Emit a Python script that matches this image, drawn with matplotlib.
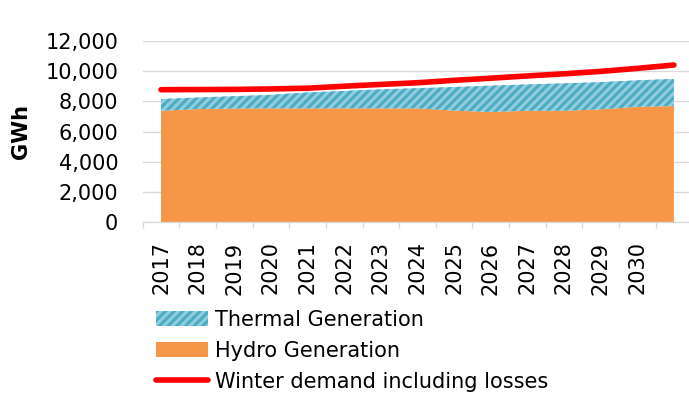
import matplotlib
matplotlib.use("Agg")
import matplotlib.pyplot as plt
import numpy as np

# ---- data ----
tick_labels = ['2017', '2018', '2019', '2020', '2021', '2022', '2023', '2024',
               '2025', '2026', '2027', '2028', '2029', '2030', '']
hydro = [7390, 7500, 7540, 7550, 7550, 7550, 7550, 7550, 7400, 7310, 7390, 7390, 7480, 7650, 7700]
thermal = [775, 760, 810, 890, 1050, 1150, 1250, 1330, 1560, 1735, 1740, 1810, 1800, 1750, 1790]
demand = [8780, 8790, 8800, 8830, 8880, 9010, 9130, 9240, 9400, 9540, 9690, 9830, 9990, 10190, 10413]
yticks = [0, 2000, 4000, 6000, 8000, 10000, 12000]

DPI = 130
W, H = 689, 413
plt.rcParams['font.family'] = ['DejaVu Sans']
plt.rcParams['hatch.linewidth'] = 1.7
FS = 11.6

fig = plt.figure(figsize=(W / DPI, H / DPI), dpi=DPI)
left, right, top, bottom = 142.7, 692.2, 41.0, 222.5
ax = fig.add_axes([left / W, 1 - bottom / H, (right - left) / W, (bottom - top) / H])

n = len(tick_labels)
x = np.arange(n) + 0.5
hydro_a = np.array(hydro, float)
therm_a = np.array(thermal, float)

ax.fill_between(x, 0, hydro_a, facecolor='#F79646', edgecolor='none', lw=0,
                label='Hydro Generation', zorder=2)
ax.fill_between(x, hydro_a, hydro_a + therm_a, facecolor='#92CDDC', edgecolor='#4BACC6',
                hatch='/////', lw=0, label='Thermal Generation', zorder=2)
ax.plot(x, demand, color='#FF0000', lw=3.1, solid_capstyle='round',
        label='Winter demand including losses', zorder=3)

ax.set_xlim(0, n)
ax.set_ylim(0, 12000)
ax.set_yticks(yticks)
ax.set_yticklabels([f"{v:,}" for v in yticks], fontsize=FS)
ax.tick_params(axis='y', length=0, pad=13.5)
ax.yaxis.grid(True, color='#D9D9D9', lw=0.75, zorder=0)
ax.set_axisbelow(True)

ax.set_xticks(np.arange(n + 1))
ax.set_xticklabels([])
ax.tick_params(axis='x', which='major', length=3.3, color='#D9D9D9', width=0.75)
ax.set_xticks(x, minor=True)
ax.set_xticklabels(tick_labels, minor=True, rotation=90, fontsize=FS)
ax.tick_params(axis='x', which='minor', length=0, pad=10.5)

for s in ['left', 'right', 'top']:
    ax.spines[s].set_visible(False)
ax.spines['bottom'].set_color('#D9D9D9')
ax.spines['bottom'].set_linewidth(0.75)

ax.set_ylabel('GWh', fontsize=FS, fontweight='bold', labelpad=8)

h, l = ax.get_legend_handles_labels()
order = [1, 0, 2]
fig.legend([h[i] for i in order], [l[i] for i in order], loc='upper left',
           bbox_to_anchor=(156 / W, 1 - 310 / H), frameon=False, fontsize=FS,
           handlelength=2.5, handletextpad=0.33, labelspacing=0.52,
           borderpad=0, borderaxespad=0)

fig.savefig('out.png', dpi=DPI)
